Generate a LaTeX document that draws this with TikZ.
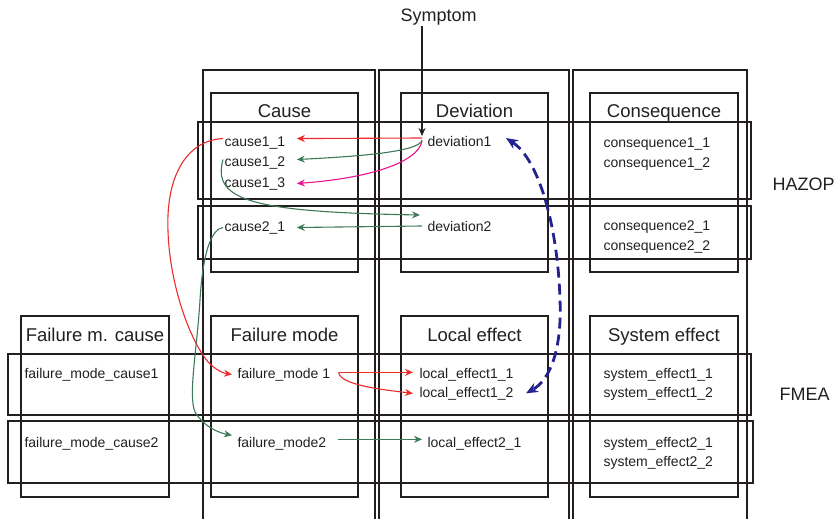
\documentclass[tikz,border=0pt]{standalone}
\usepackage{fontspec}
\setmainfont{Liberation Sans}
\usetikzlibrary{arrows.meta}

\definecolor{ink}{HTML}{231F20}
\definecolor{linkred}{HTML}{EE2B2B}
\definecolor{linkgreen}{HTML}{3E7A58}
\definecolor{linkpink}{HTML}{E8148C}
\definecolor{linkblue}{HTML}{23238F}

\begin{document}
\begin{tikzpicture}[x=1pt, y=-1pt, line width=1.1pt,
    frame/.style={draw=ink},
    head/.style={anchor=base, inner sep=0pt, text=ink, font=\fontsize{18.5}{22}\selectfont},
    tag/.style={anchor=base west, inner sep=0pt, text=ink, font=\fontsize{18}{21}\selectfont},
    item/.style={anchor=base west, inner sep=0pt, text=ink, font=\fontsize{14}{16}\selectfont},
    link/.style={line width=1.1pt, -{Stealth[length=8pt, width=7pt]}},
    redlink/.style={link, draw=linkred},
    greenlink/.style={link, draw=linkgreen},
    pinklink/.style={link, draw=linkpink},
    bluelink/.style={draw=linkblue, line width=2.8pt, dash pattern=on 11pt off 6pt,
        {Stealth[length=12pt, width=10pt]}-{Stealth[length=12pt, width=10pt]}}
]
\useasboundingbox (0,0) rectangle (838,519);

% columns
\draw[frame] (203,525) |- (375,70) -- (375,525);
\draw[frame] (379,525) |- (569,70) -- (569,525);
\draw[frame] (573,525) |- (747,70) -- (747,525);

% HAZOP
\draw[frame] (211,93) rectangle (358,272);
\draw[frame] (401,93) rectangle (548,272);
\draw[frame] (590,93) rectangle (738,272);
\draw[frame] (198,122) rectangle (751,199);
\draw[frame] (198,206) rectangle (751,259);

% FMEA
\draw[frame] (21,316) rectangle (169,497);
\draw[frame] (211,316) rectangle (358,497);
\draw[frame] (401,316) rectangle (548,497);
\draw[frame] (590,316) rectangle (738,497);
\draw[frame] (8,354) rectangle (751,415);
\draw[frame] (8,421) rectangle (753,483);

\node[tag] (sym) at (400,22) {Symptom};
\node[tag] (hazop) at (772,190) {HAZOP};
\node[tag] (fmea) at (779,400) {FMEA};

\node[head] (causehd) at (284.5,117) {Cause};
\node[head] (devhd) at (474.5,117) {Deviation};
\node[head] (conshd) at (664,117) {Consequence};
\node[head] (fmchd) at (95,341) {Failure m. cause};
\node[head] (fmhd) at (284.5,341) {Failure mode};
\node[head] (lehd) at (474.5,341) {Local effect};
\node[head] (sehd) at (664,341) {System effect};

\node[item] (c11) at (224,146) {cause1\_1};
\node[item] (c12) at (224,166) {cause1\_2};
\node[item] (c13) at (224,187) {cause1\_3};
\node[item] (c21) at (224,231) {cause2\_1};
\node[item] (dv1) at (427,146) {deviation1};
\node[item] (dv2) at (427,231) {deviation2};
\node[item] (cq11) at (603,147) {consequence1\_1};
\node[item] (cq12) at (603,167) {consequence1\_2};
\node[item] (cq21) at (603,230) {consequence2\_1};
\node[item] (cq22) at (603,250) {consequence2\_2};

\node[item] (fmc1) at (24,378) {failure\_mode\_cause1};
\node[item] (fmc2) at (24,447) {failure\_mode\_cause2};
\node[item] (fm1) at (237,378) {failure\_mode 1};
\node[item] (fm2) at (237,447) {failure\_mode2};
\node[item] (le11) at (419,378) {local\_effect1\_1};
\node[item] (le12) at (419,397) {local\_effect1\_2};
\node[item] (le21) at (427,447) {local\_effect2\_1};
\node[item] (se11) at (603,378) {system\_effect1\_1};
\node[item] (se12) at (603,397) {system\_effect1\_2};
\node[item] (se21) at (603,447) {system\_effect2\_1};
\node[item] (se22) at (603,466) {system\_effect2\_2};

\coordinate (dvout) at ([xshift=-5pt]dv1.west);
\coordinate (dvtip) at ([xshift=-5pt,yshift=5pt]dv1.west);

\draw[link, draw=ink] (sym.south -| dvtip) -- (dvtip);
\draw[redlink] ([yshift=3pt]dvout) -- ([xshift=11pt,yshift=4pt]c11.east);
\draw[greenlink] ([yshift=1pt]dvout) .. controls +(-2,12) and +(60,-3) .. ([xshift=11pt,yshift=3pt]c12.east);
\draw[pinklink] (dvout) .. controls +(-4,22) and +(70,-5) .. ([xshift=11pt]c13.east);
\draw[greenlink] ([xshift=-1pt,yshift=3pt]c12.west) .. controls (212,200) and (250,212) .. ([xshift=-7pt,yshift=11pt]dv2.west);
\draw[greenlink] ([xshift=-5pt]dv2.west) -- ([xshift=11pt]c21.east);
\draw[greenlink] ([xshift=-1pt]c21.west) .. controls (212,229) and (203,250) .. (200,300)
    .. controls (197,350) and (188,395) .. (195,412)
    .. controls (205,428) and (220,433) .. ([xshift=-5pt,yshift=8pt]fm2.west);
\draw[redlink] ([xshift=-1pt,yshift=4pt]c11.west) .. controls (190,140) and (170,170) .. (168,215)
    .. controls (166,270) and (185,330) .. (205,358)
    .. controls (212,368) and (222,373) .. ([xshift=-5pt]fm1.west);
\draw[redlink] ([xshift=8pt,yshift=2pt]fm1.east) -- ([xshift=-6pt,yshift=2pt]le11.west);
\draw[redlink] ([xshift=8pt,yshift=2pt]fm1.east) .. controls +(1,12) and +(-35,-4) .. ([xshift=-6pt]le12.west);
\draw[greenlink] ([xshift=11pt,yshift=4pt]fm2.east) -- ([xshift=-5pt,yshift=4pt]le21.west);
\draw[bluelink] ([xshift=14pt,yshift=3pt]dv1.east) .. controls (540,160) and (558,230) .. (560,300)
    .. controls (562,350) and (550,380) .. ([xshift=12pt]le12.east);
\end{tikzpicture}
\end{document}
